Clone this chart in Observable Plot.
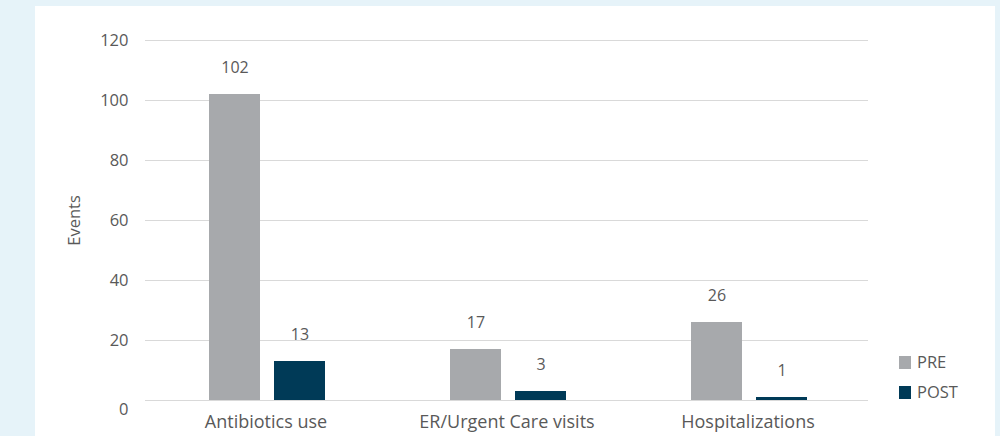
<!DOCTYPE html>
<html><head><meta charset="utf-8">
<script src="https://cdn.jsdelivr.net/npm/d3@7"></script>
<script src="https://cdn.jsdelivr.net/npm/@observablehq/plot@0.6"></script>
<style>
html,body{margin:0;padding:0;}
body{width:1000px;height:436px;background:#e6f3f9;position:relative;overflow:hidden;font-family:"Open Sans",sans-serif;}
#panel{position:absolute;left:35px;top:6px;width:960px;height:430px;background:#fff;}
#chart{position:absolute;left:0;top:0;}
#legend{position:absolute;left:899px;top:347px;color:#595959;font-size:16.5px;line-height:30px;}
#legend .item{display:flex;align-items:center;height:30px;}
#legend .sw{width:12px;height:13px;margin-right:6px;}
</style>
</head><body>
<div id="panel"></div>
<div id="chart"></div>
<div id="legend"></div>
<script>
const categories = ["Antibiotics use", "ER/Urgent Care visits", "Hospitalizations"];
const series = ["PRE", "POST"];
const preValues = [102, 17, 26];
const postValues = [13, 3, 1];
const yTicks = [0, 20, 40, 60, 80, 100, 120];
const yLabel = "Events";
const colors = ["#a7a9ac", "#003a57"];

const data = [];
categories.forEach((c, i) => {
  data.push({category: c, series: "PRE", value: preValues[i]});
  data.push({category: c, series: "POST", value: postValues[i]});
});

const textColor = "#595959";
const chart = Plot.plot({
  width: 1000,
  height: 436,
  marginLeft: 144,
  marginRight: 132,
  marginTop: 40,
  marginBottom: 36,
  style: {fontFamily: "'Open Sans', sans-serif", fontSize: "16px", background: "transparent", color: textColor},
  fx: {domain: categories, padding: 0, label: null},
  x: {domain: series, paddingInner: 0.212, paddingOuter: 0.934, axis: null},
  y: {domain: [0, 120], label: null},
  color: {domain: series, range: colors},
  marks: [
    Plot.gridY(yTicks, {stroke: "#d9d9d9", strokeOpacity: 1, strokeWidth: 1.2}),
    Plot.axisY(yTicks.filter(t => t > 0), {tickSize: 0, tickPadding: 17, fontSize: 16.5, fill: textColor, label: null}),
    Plot.axisY([0], {tickSize: 0, tickPadding: 17, fontSize: 16.5, fill: textColor, dy: 9, label: null}),
    Plot.text([{category: categories[0], label: yLabel}], {fx: "category", text: "label", frameAnchor: "left", textAnchor: "middle", rotate: -90, dx: -71, fontSize: 16.5, fill: textColor}),
    Plot.axisFx({anchor: "bottom", tickSize: 0, tickPadding: 15, fontSize: 18, fill: textColor, label: null}),
    Plot.barY(data, {fx: "category", x: "series", y: "value", fill: "series", dx: 2}),
    Plot.text(data, {fx: "category", x: "series", y: "value", text: d => String(d.value), dy: -27, dx: 2, fill: textColor, fontSize: 16})
  ]
});
document.getElementById("chart").appendChild(chart);

const legend = document.getElementById("legend");
series.forEach((s, i) => {
  const item = document.createElement("div");
  item.className = "item";
  const sw = document.createElement("span");
  sw.className = "sw";
  sw.style.background = colors[i];
  const tx = document.createElement("span");
  tx.textContent = s;
  item.appendChild(sw);
  item.appendChild(tx);
  legend.appendChild(item);
});
</script>
</body></html>
